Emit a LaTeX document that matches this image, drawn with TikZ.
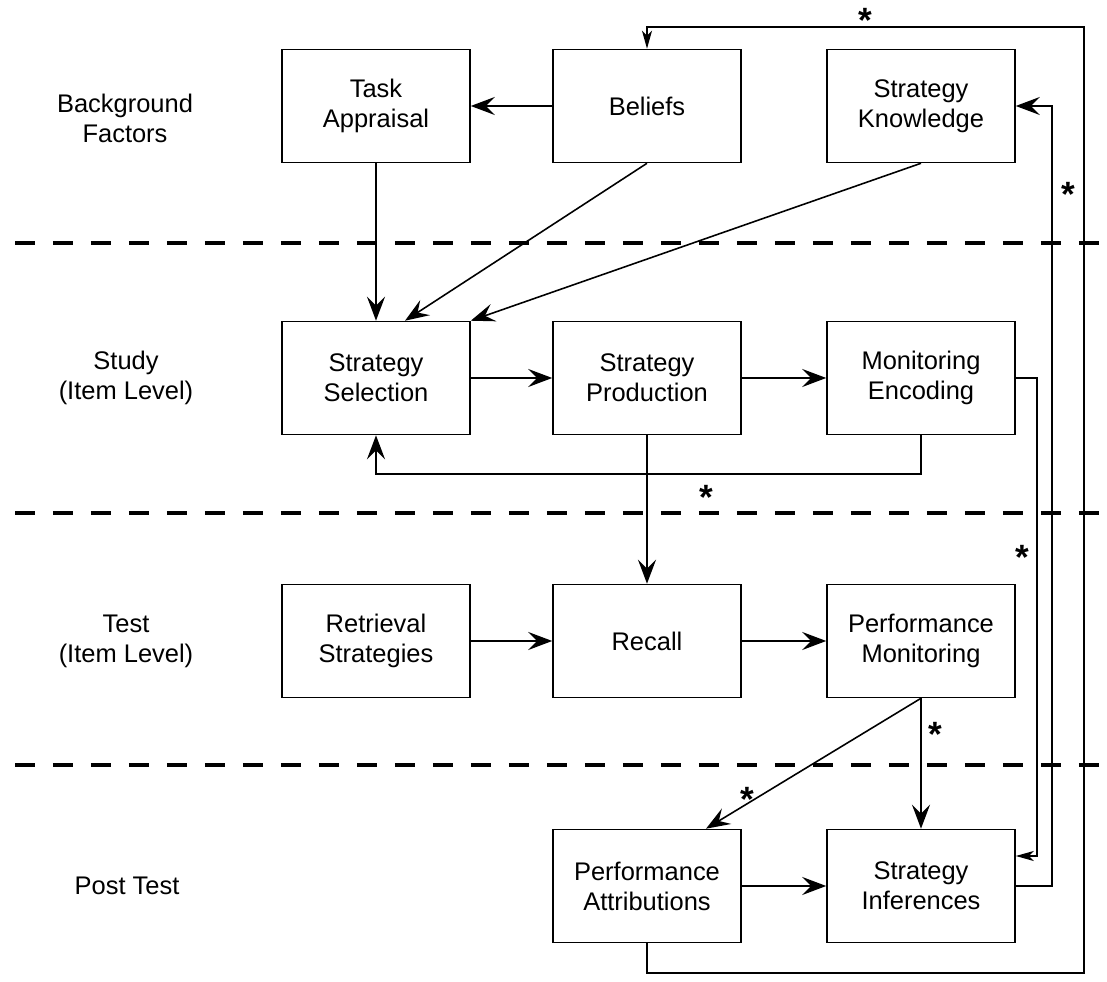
\documentclass[tikz,border=0pt]{standalone}
\usepackage{fontspec}
\setmainfont{Liberation Sans}
\usetikzlibrary{arrows.meta}
\tikzstyle{box} = [rectangle, minimum width=3.76cm, minimum height=2.26cm, text centered, align=center, draw=black, line width=0.9pt, font=\fontsize{14.5}{17}\selectfont]
\tikzstyle{lbl} = [align=center, font=\fontsize{14.5}{17}\selectfont]
\tikzstyle{arrow} = [line width=0.9pt,-{Stealth[length=0.48cm,width=0.36cm,inset=0.18cm]}]
\tikzstyle{thinarrow} = [line width=0.9pt,-{Stealth[length=0.36cm,width=0.2cm,inset=0.1cm]}]
\tikzstyle{sep} = [line width=2.3pt, dash pattern=on 0.4cm off 0.36cm]
\tikzstyle{star} = [inner sep=0pt, font=\fontsize{20}{20}\selectfont\bfseries]

\begin{document}
\begin{tikzpicture}[x=0.02cm, y=-0.02cm]
\useasboundingbox (0,0) rectangle (1107,982);

% Dashed level lines
\foreach \ly in {243,513,765}
  \draw [sep] (15,\ly) -- (1107,\ly);

% Level labels
\node (lbg) [lbl] at (125,118) {Background\\Factors};
\node (lstudy) [lbl] at (126,378) {Study\\(Item Level)};
\node (ltest) [lbl] at (126,641) {Test\\(Item Level)};
\node (lpost) [lbl] at (127,886) {Post Test};

% Drawing nodes
\node (task) [box] at (376,106) {Task\\Appraisal};
\node (beliefs) [box] at (647,106) {Beliefs};
\node (know) [box] at (921,106) {Strategy\\Knowledge};
\node (select) [box] at (376,378) {Strategy\\Selection};
\node (produce) [box] at (647,378) {Strategy\\Production};
\node (monenc) [box] at (921,378) {Monitoring\\Encoding};
\node (retrieve) [box] at (376,641) {Retrieval\\Strategies};
\node (recall) [box] at (647,641) {Recall};
\node (perfmon) [box] at (921,641) {Performance\\Monitoring};
\node (attrib) [box] at (647,886) {Performance\\Attributions};
\node (infer) [box] at (921,886) {Strategy\\Inferences};

% Drawing arrows
\draw [arrow] (beliefs) -- (task);
\draw [arrow] (task) -- (select);
\draw [arrow] (beliefs.south) -- ([xshift=0.58cm]select.north);
\draw [arrow] (know.south) -- (select.north east);
\draw [arrow] (select) -- (produce);
\draw [arrow] (produce) -- (monenc);
\draw [arrow] (monenc.south) -- ++(0,39) -| (select.south);
\draw [arrow] (produce) -- (recall);
\draw [arrow] (retrieve) -- (recall);
\draw [arrow] (recall) -- (perfmon);
\draw [arrow] (perfmon) -- (infer);
\draw [arrow] (perfmon.south) -- ([xshift=1.18cm]attrib.north);
\draw [arrow] (attrib) -- (infer);
\draw [thinarrow] (monenc.east) -- ++(21,0) |- ([yshift=0.6cm]infer.east);
\draw [arrow] (infer.east) -- ++(36,0) |- (know.east);
\coordinate (topright) at (1084,27);
\draw [thinarrow] (attrib.south) -- ++(0,30) -| (topright) -| (beliefs.north);

% Asterisks
\node (s1) [star] at (865,20) {*};
\node (s2) [star] at (1068,194) {*};
\node (s3) [star] at (706,497) {*};
\node (s4) [star] at (1022,557) {*};
\node (s5) [star] at (935,734) {*};
\node (s6) [star] at (747,799) {*};
\end{tikzpicture}
\end{document}
